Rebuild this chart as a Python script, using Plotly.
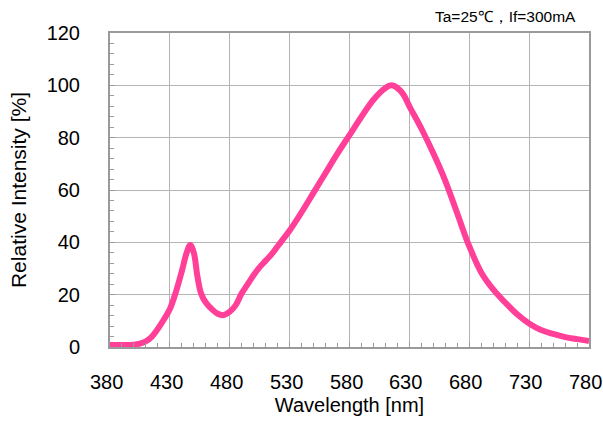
import plotly.graph_objects as go

# Relative spectral intensity of the LED
wavelength_nm = [380, 390, 400, 405, 410, 415, 420, 425, 430, 435, 440, 444, 447,
                 450, 453, 456, 460, 465, 470, 475, 480, 485, 490, 495, 500, 505,
                 510, 515, 520, 525, 530, 540, 550, 560, 570, 580, 590, 600, 610,
                 615, 620, 625, 630, 640, 650, 660, 670, 680, 690, 700, 710, 720,
                 730, 740, 750, 760, 770, 780]
relative_intensity = [0.8, 0.8, 0.9, 1.3, 2.2, 4.0, 7.0, 10.5, 14.5, 21.0, 29.0, 36.0, 39.0,
                      36.0, 27.0, 20.5, 17.0, 14.5, 12.7, 12.2, 13.5, 16.0, 20.5, 24.0, 27.5, 30.5,
                      33.0, 35.5, 38.5, 41.5, 44.5, 51.5, 59.0, 66.5, 74.0, 81.0, 88.0, 94.5, 99.0,
                      100.0, 99.0, 96.5, 92.0, 83.5, 74.0, 63.5, 51.0, 38.5, 28.5, 22.0, 17.0, 12.5,
                      9.0, 6.5, 5.0, 3.8, 3.0, 2.3]

x_ticks = [380, 430, 480, 530, 580, 630, 680, 730, 780]
y_ticks = [0, 20, 40, 60, 80, 100, 120]

FONT = "Liberation Sans, Arial, sans-serif"
AXIS_COLOR = "#9a9a9a"
GRID_COLOR = "#b4b4b4"

fig = go.Figure()
fig.add_trace(go.Scatter(
    x=wavelength_nm,
    y=relative_intensity,
    mode="lines",
    line=dict(color="#FF3F98", width=6, shape="spline", smoothing=1.0),
    hoverinfo="x+y",
    showlegend=False,
))

fig.update_xaxes(
    range=[380, 780],
    automargin=False,
    tickvals=x_ticks,
    showticklabels=False,
    showgrid=True, gridcolor=GRID_COLOR, gridwidth=1,
    showline=True, linecolor=AXIS_COLOR, linewidth=2, mirror=True,
    ticks="inside", ticklen=5, tickcolor=AXIS_COLOR, tickwidth=1,
    minor=dict(dtick=10, tick0=380, ticks="inside", ticklen=4,
               tickcolor=AXIS_COLOR, tickwidth=1, showgrid=False),
    title=dict(text="Wavelength [nm]", standoff=50,
               font=dict(family=FONT, size=20, color="#000")),
    zeroline=False,
)
fig.update_yaxes(
    range=[0, 120],
    automargin=False,
    tickvals=y_ticks,
    showgrid=True, gridcolor=GRID_COLOR, gridwidth=1,
    showline=True, linecolor=AXIS_COLOR, linewidth=2, mirror=True,
    ticks="inside", ticklen=5, tickcolor=AXIS_COLOR, tickwidth=1,
    minor=dict(dtick=4, tick0=0, ticks="inside", ticklen=4,
               tickcolor=AXIS_COLOR, tickwidth=1, showgrid=False),
    ticklabelstandoff=24,
    ticklabeloverflow="allow",
    tickfont=dict(family=FONT, size=20, color="#000"),
    title=dict(text="Relative Intensity [%]", standoff=14,
               font=dict(family=FONT, size=21, color="#000")),
    zeroline=False,
)

# Wavelength tick labels, placed on the x scale and set just left of each tick
for v in x_ticks:
    fig.add_annotation(
        text=str(v),
        x=v, xref="x",
        y=0, yref="paper",
        xanchor="center", yanchor="middle",
        xshift=-3.5, yshift=-35,
        showarrow=False,
        font=dict(family=FONT, size=20, color="#000"),
    )

fig.add_annotation(
    text="Ta=25℃，If=300mA",
    xref="paper", yref="paper",
    x=0.977, y=1.054,
    xanchor="right", yanchor="middle",
    showarrow=False,
    font=dict(family=FONT, size=15.5, color="#000"),
)

fig.update_layout(
    width=603, height=426,
    margin=dict(l=110, r=14, t=33, b=79, autoexpand=False),
    paper_bgcolor="white",
    plot_bgcolor="white",
)

fig.write_html("out.html")
